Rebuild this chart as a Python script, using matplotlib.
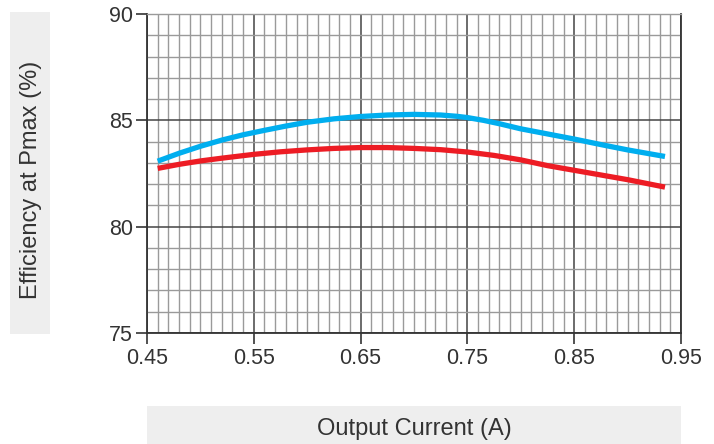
import numpy as np
import matplotlib.pyplot as plt
from matplotlib.patches import Rectangle
from matplotlib.ticker import MultipleLocator

# values
current_blue = [0.46, 0.48, 0.50, 0.52, 0.54, 0.56, 0.58, 0.60, 0.625, 0.65, 0.675, 0.70,
                0.725, 0.74, 0.75, 0.765, 0.78, 0.80, 0.825, 0.85, 0.875, 0.90, 0.935]
eff_blue = [83.08, 83.45, 83.78, 84.07, 84.32, 84.53, 84.73, 84.91, 85.07, 85.18, 85.25, 85.28,
            85.25, 85.19, 85.13, 85.00, 84.84, 84.60, 84.36, 84.12, 83.86, 83.61, 83.30]
current_red = [0.46, 0.48, 0.50, 0.52, 0.55, 0.575, 0.60, 0.625, 0.65, 0.675, 0.70,
               0.725, 0.75, 0.775, 0.80, 0.825, 0.85, 0.875, 0.90, 0.935]
eff_red = [82.74, 82.93, 83.09, 83.22, 83.40, 83.52, 83.61, 83.68, 83.72, 83.72, 83.68,
           83.62, 83.51, 83.35, 83.14, 82.87, 82.65, 82.43, 82.21, 81.86]

xticks = [0.45, 0.55, 0.65, 0.75, 0.85, 0.95]
yticks = [75, 80, 85, 90]

plt.rcParams['font.family'] = ['Liberation Sans', 'DejaVu Sans']

fig = plt.figure(figsize=(7.14, 4.44), dpi=100)
ax = fig.add_axes([147/714, 1-333/444, (681-147)/714, (333-14)/444])

ax.plot(current_blue, eff_blue, color='#00aeef', lw=3.8, solid_capstyle='butt',
        solid_joinstyle='round', zorder=5)
ax.plot(current_red, eff_red, color='#ed1c24', lw=3.8, solid_capstyle='butt',
        solid_joinstyle='round', zorder=5)

ax.set_xlim(0.45, 0.95)
ax.set_ylim(75, 90)
ax.set_xticks(xticks)
ax.set_xticklabels(['%.2f' % v for v in xticks])
ax.set_yticks(yticks)
ax.xaxis.set_minor_locator(MultipleLocator(0.01))
ax.yaxis.set_minor_locator(MultipleLocator(1))
ax.grid(which='minor', color='#9a9a9a', lw=1.0)
ax.grid(which='major', color='#444444', lw=1.1)
ax.set_axisbelow(True)

ax.tick_params(which='major', direction='out', length=8, width=1.2, color='#333333',
               labelsize=15.5, labelcolor='#333333', pad=3)
ax.tick_params(which='minor', length=0)
ax.tick_params(axis='y', pad=2)

for side in ['left', 'bottom', 'right']:
    ax.spines[side].set_color('#333333')
    ax.spines[side].set_linewidth(1.3)
ax.spines['top'].set_color('#9a9a9a')
ax.spines['top'].set_linewidth(1.0)

# grey label boxes
fig.patches.append(Rectangle((10/714, 1-334/444), 40/714, 322/444, transform=fig.transFigure,
                             facecolor='#eeeeee', edgecolor='none', zorder=0))
fig.patches.append(Rectangle((147/714, 0), (681-147)/714, 38/444, transform=fig.transFigure,
                             facecolor='#eeeeee', edgecolor='none', zorder=0))
fig.text(31/714, 1-180/444, 'Efficiency at Pmax (%)', rotation=90, ha='center', va='center',
         fontsize=17, color='#333333')
fig.text(414/714, 1-429/444, 'Output Current (A)', ha='center', va='center',
         fontsize=17, color='#333333')

fig.savefig('out.png', dpi=100)
